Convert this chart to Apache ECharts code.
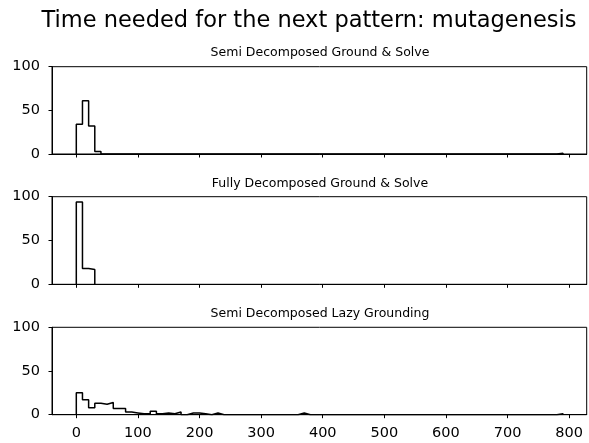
<!DOCTYPE html>
<html>
<head>
<meta charset="utf-8">
<script src="https://cdn.jsdelivr.net/npm/echarts@6/dist/echarts.min.js"></script>
<style>
  html, body { margin: 0; padding: 0; background: #fff; }
  #chart { width: 589px; height: 443px; }
</style>
</head>
<body>
<div id="chart"></div>
<script>
// histogram counts, 10-unit bins starting at 0
const BIN_W = 10;

const semiGround = [
  34, 61, 32, 3, 0, 0, 0, 0, 0, 0,
  0, 0, 0, 0, 0, 0, 0, 0, 0, 0,
  0, 0, 0, 0, 0, 0, 0, 0, 0, 0,
  0, 0, 0, 0, 0, 0, 0, 0, 0, 0,
  0, 0, 0, 0, 0, 0, 0, 0, 0, 0,
  0, 0, 0, 0, 0, 0, 0, 0, 0, 0,
  0, 0, 0, 0, 0, 0, 0, 0, 0, 0,
  0, 0, 0, 0, 0, 0, 0, 0, 1,
];

const fullyGround = [94, 18, 17];

const semiLazy = [
  25, 17, 8, 13, 12, 14, 7, 7, 3, 2,
  1, 1, 4, 1, 2, 1, 3, 0, 2, 2,
  1, 0, 2, 0, 0, 0, 0, 0, 0, 0,
  0, 0, 0, 0, 0, 0, 2, 0, 0, 0,
  0, 0, 0, 0, 0, 0, 0, 0, 0, 0,
  0, 0, 0, 0, 0, 0, 0, 0, 0, 0,
  0, 0, 0, 0, 0, 0, 0, 0, 0, 0,
  0, 0, 0, 0, 0, 0, 0, 0, 1,
];

const panelTitles = [
  'Semi Decomposed Ground & Solve',
  'Fully Decomposed Ground & Solve',
  'Semi Decomposed Lazy Grounding',
];
const xTicks = [0, 100, 200, 300, 400, 500, 600, 700, 800];

const FONT = '"DejaVu Sans", sans-serif';
const GRIDS = [
  { top: 66.7, height: 87.3 },
  { top: 196.7, height: 87.6 },
  { top: 327.3, height: 87.4 },
];
const TITLE_Y = [52.5, 183.5, 313.5];

function stepPoints(counts) {
  const pts = [[0, 0]];
  counts.forEach((c, i) => {
    pts.push([i * BIN_W, c], [(i + 1) * BIN_W, c]);
  });
  pts.push([counts.length * BIN_W, 0]);
  return pts;
}

const chart = echarts.init(document.getElementById('chart'), null, { renderer: 'canvas' });

chart.setOption({
  animation: false,
  grid: GRIDS.map(g => ({
    left: 52, right: 2.3, top: g.top, height: g.height,
    show: true, borderColor: '#000', borderWidth: 1, backgroundColor: 'transparent',
  })),
  xAxis: GRIDS.map((g, i) => ({
    type: 'value', gridIndex: i,
    min: -39.45, max: 828.45,
    splitLine: { show: false },
    axisLine: { show: true, onZero: false, lineStyle: { color: '#000', width: 1 } },
    axisTick: { show: true, length: 3.5, lineStyle: { color: '#000' }, customValues: xTicks },
    axisLabel: {
      show: i === 2, color: '#000', fontSize: 14.5, fontFamily: FONT, margin: 11,
      customValues: xTicks,
    },
  })),
  yAxis: GRIDS.map((g, i) => ({
    type: 'value', gridIndex: i,
    min: 0, max: 100, interval: 50,
    splitLine: { show: false },
    axisLine: { show: true, onZero: false, lineStyle: { color: '#000', width: 1 } },
    axisTick: { show: true, length: 3.5, lineStyle: { color: '#000' } },
    axisLabel: { color: '#000', fontSize: 14.5, fontFamily: FONT, margin: 12 },
  })),
  series: [semiGround, fullyGround, semiLazy].map((counts, i) => ({
    type: 'line', xAxisIndex: i, yAxisIndex: i,
    data: stepPoints(counts),
    showSymbol: false, symbol: 'none',
    lineStyle: { color: '#000', width: 1.5 },
    z: 5,
  })),
  graphic: [
    {
      type: 'text', x: 309, y: 21,
      style: {
        text: 'Time needed for the next pattern: mutagenesis',
        font: '22.5px ' + FONT, fill: '#000', textAlign: 'center', textVerticalAlign: 'middle',
      },
    },
    ...panelTitles.map((t, i) => ({
      type: 'text', x: 320, y: TITLE_Y[i],
      style: {
        text: t, font: '12.5px ' + FONT, fill: '#000',
        textAlign: 'center', textVerticalAlign: 'middle',
      },
    })),
  ],
});
</script>
</body>
</html>
